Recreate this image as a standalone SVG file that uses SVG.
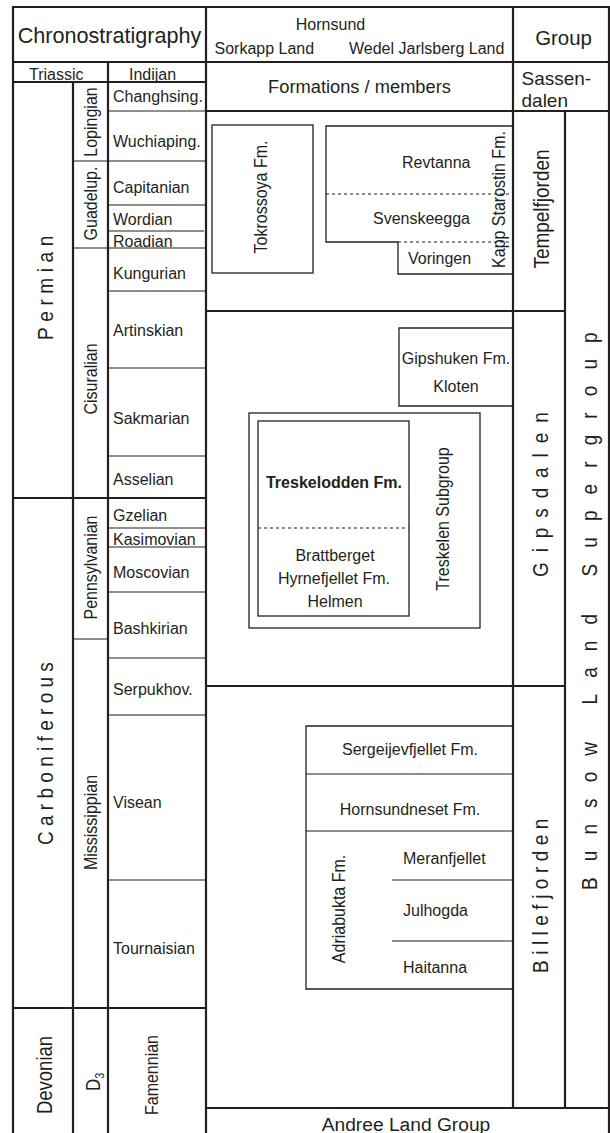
<svg xmlns="http://www.w3.org/2000/svg" width="610" height="1133" viewBox="0 0 610 1133">
<style>
text{font-family:"Liberation Sans",Arial,sans-serif;fill:#231f20}
.t16{font-size:16px}
.th{stroke:#231f20;stroke-width:2.2;fill:none}
.tn{stroke:#231f20;stroke-width:1.1;fill:none}
.bx{stroke:#231f20;stroke-width:1.3;fill:none}
.ds{stroke:#231f20;stroke-width:1.1;fill:none;stroke-dasharray:3 3}
.m{text-anchor:middle}
</style>
<rect width="610" height="1133" fill="#fff"/>
<g id="connectors">
<path class="th" d="M13,1133 V7 H609 V1133"/>
<path class="th" d="M13,62 H609"/>
<path class="th" d="M206,7 V1133 M513,7 V1108 M565,111 V1108"/>
<path class="th" d="M73,82 V1133 M108,62 V1133"/>
<path class="th" d="M13,82 H206"/>
<path class="th" d="M206,111 H609"/>
<path class="th" d="M206,311 H565 M206,686 H565 M206,1108 H609"/>
<path class="th" d="M13,498 H206 M13,1008 H206"/>
<path class="tn" d="M108,111 H206 M73,161 H206 M108,205 H206 M108,231 H204 M73,248 H206 M108,291 H206 M108,368 H206 M108,456 H206 M108,528 H206 M108,547 H206 M108,592 H206 M73,639 H108 M108,658 H206 M108,715 H206 M108,880 H206"/>
</g>
<g id="header">
<text x="109.5" y="42.5" class="m" font-size="21.6">Chronostratigraphy</text>
<text x="330.5" y="30" class="m t16">Hornsund</text>
<text x="214.5" y="53.5" class="t16">Sorkapp Land</text>
<text x="349" y="54" class="t16">Wedel Jarlsberg Land</text>
<text x="563.5" y="44.5" class="m" font-size="20.4">Group</text>
<text x="359.5" y="93" class="m" font-size="18.3">Formations / members</text>
<text x="521.5" y="85" font-size="19">Sassen-</text>
<text x="521.5" y="107" font-size="19">dalen</text>
<text x="29" y="80" class="t16">Triassic</text>
<text x="129" y="80" class="t16">Indijan</text>
</g>
<g id="periods">
<text transform="translate(53,340) rotate(-90) scale(1,1.2)" font-size="19" letter-spacing="5.6">Permian</text>
<text transform="translate(53,845) rotate(-90) scale(1,1.2)" font-size="19" letter-spacing="5.3">Carboniferous</text>
<text transform="translate(52,1075) rotate(-90) scale(1,1.15)" class="m" font-size="18.5">Devonian</text>
</g>
<g id="epochs" class="t16">
<text transform="translate(97,122) rotate(-90) scale(1,1.13)" class="m">Lopingian</text>
<text transform="translate(97,203.5) rotate(-90) scale(1,1.13)" class="m">Guadelup.</text>
<text transform="translate(97,379) rotate(-90) scale(1,1.13)" class="m">Cisuralian</text>
<text transform="translate(97,567.5) rotate(-90) scale(1,1.13)" class="m">Pennsylvanian</text>
<text transform="translate(97,822.5) rotate(-90) scale(1,1.13)" class="m">Mississippian</text>
<text transform="translate(100,1091) rotate(-90) scale(1,1.2)" font-size="17">D<tspan font-size="11" dy="3">3</tspan></text>
</g>
<g id="stages" class="t16">
<text x="113" y="101.5">Changhsing.</text>
<text x="113" y="147">Wuchiaping.</text>
<text x="113" y="193">Capitanian</text>
<text x="113" y="225">Wordian</text>
<text x="113" y="247">Roadian</text>
<text x="113" y="278.5">Kungurian</text>
<text x="113" y="335.5">Artinskian</text>
<text x="113" y="423.5">Sakmarian</text>
<text x="113" y="484.5">Asselian</text>
<text x="113" y="521">Gzelian</text>
<text x="113" y="544.5">Kasimovian</text>
<text x="113" y="577.5">Moscovian</text>
<text x="113" y="633.5">Bashkirian</text>
<text x="113" y="694.5">Serpukhov.</text>
<text x="113" y="807.5">Visean</text>
<text x="113" y="953.5">Tournaisian</text>
<text transform="translate(158,1075) rotate(-90) scale(1,1.13)" class="m">Famennian</text>
</g>
<g id="tokrossoya">
<rect class="bx" x="212" y="125" width="101" height="148"/>
<text transform="translate(267,197) rotate(-90) scale(1,1.13)" class="m t16">Tokrossoya Fm.</text>
</g>
<g id="kapp-starostin">
<path class="bx" d="M513,126 H326 V242 H398 V274 H513"/>
<path class="ds" d="M326,194 H513 M398,242 H513"/>
<text x="402" y="168" class="t16">Revtanna</text>
<text x="373" y="223.5" class="t16">Svenskeegga</text>
<text x="408" y="263.5" class="t16">Voringen</text>
<text transform="translate(505,199.5) rotate(-90) scale(1,1.1)" class="m t16">Kapp Starostin Fm.</text>
</g>
<g id="gipshuken">
<path class="bx" d="M513,328 H399 V406 H513"/>
<text x="456" y="363.5" class="m t16">Gipshuken Fm.</text>
<text x="456" y="391.5" class="m t16">Kloten</text>
</g>
<g id="treskelen">
<rect class="bx" x="249" y="413" width="231" height="215"/>
<rect class="bx" x="258" y="421" width="151" height="195"/>
<path class="ds" d="M258,528 H409"/>
<text x="334" y="488" class="m t16" font-weight="bold">Treskelodden Fm.</text>
<text x="335" y="561" class="m t16">Brattberget</text>
<text x="334" y="584" class="m t16">Hyrnefjellet Fm.</text>
<text x="335" y="607" class="m t16">Helmen</text>
<text transform="translate(449,519) rotate(-90) scale(1,1.1)" class="m t16">Treskelen Subgroup</text>
</g>
<g id="billefjorden-fms">
<path class="bx" d="M513,726 H306 V989 H513"/>
<path class="tn" d="M306,774 H513 M306,831 H513 M392,880 H513 M392,941 H513"/>
<text x="410" y="755" class="m t16">Sergeijevfjellet Fm.</text>
<text x="410" y="815" class="m t16">Hornsundneset Fm.</text>
<text x="403" y="864" class="t16">Meranfjellet</text>
<text x="403" y="915.5" class="t16">Julhogda</text>
<text x="403" y="973" class="t16">Haitanna</text>
<text transform="translate(345,909) rotate(-90) scale(1,1.1)" class="m t16">Adriabukta Fm.</text>
</g>
<g id="groups">
<text transform="translate(549,209) rotate(-90) scale(1,1.17)" class="m" font-size="19">Tempelfjorden</text>
<text transform="translate(548,577) rotate(-90) scale(1,1.12)" font-size="19" letter-spacing="9.9">Gipsdalen</text>
<text transform="translate(548,973) rotate(-90) scale(1,1.12)" font-size="19" letter-spacing="5.5">Billefjorden</text>
<text transform="translate(597,890) rotate(-90) scale(1,1.12)" font-size="19" letter-spacing="16.1">Bunsow Land Supergroup</text>
<text x="406" y="1130.5" class="m" font-size="19.2">Andree Land Group</text>
</g>
</svg>
